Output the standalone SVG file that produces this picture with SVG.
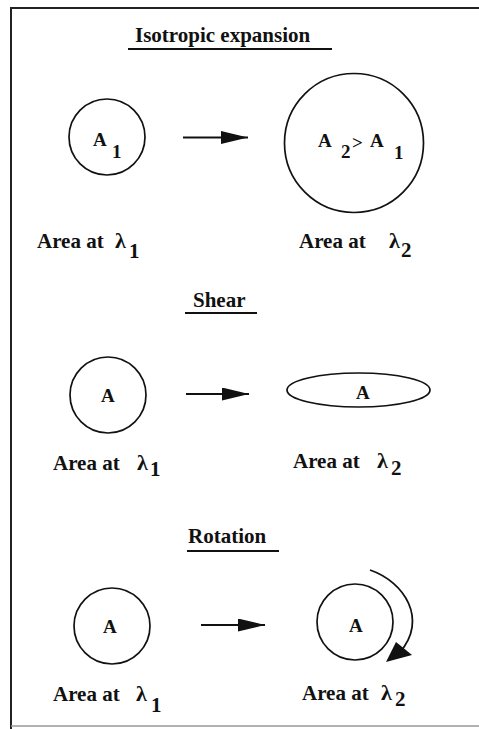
<svg xmlns="http://www.w3.org/2000/svg" width="479" height="729" viewBox="0 0 479 729">
<style>
.t{font-family:"Liberation Serif","Times New Roman",serif;font-weight:bold;fill:#111}
.h{font-size:21px}
.l{font-size:21px}
.a{font-size:19px}
.g{font-family:"Liberation Serif","Times New Roman",serif;font-weight:bold;font-size:22px;fill:#111}
.s{fill:none;stroke:#111;stroke-width:1.8}
.c{fill:none;stroke:#111;stroke-width:1.7}
</style>
<defs>
<marker id="ah" markerUnits="userSpaceOnUse" markerWidth="28" markerHeight="14" refX="27" refY="6.5" orient="auto">
<path d="M0,0 L27,6.5 L0,13 z" fill="#111"/>
</marker>
</defs>
<rect width="479" height="729" fill="#fff"/>
<g id="frame">
<line x1="11" y1="8" x2="479" y2="8" stroke="#222" stroke-width="2"/>
<line x1="11" y1="7" x2="11" y2="729" stroke="#222" stroke-width="2"/>
<line x1="11" y1="726" x2="479" y2="726" stroke="#999" stroke-width="1.5"/>
</g>
<g id="title-isotropic">
<text class="t h" x="135" y="42">Isotropic expansion</text>
<line class="s" x1="128" y1="49" x2="332" y2="49"/>
</g>
<g id="iso-circle1">
<circle class="c" cx="107" cy="137" r="38"/>
<text class="t a" x="93" y="146">A</text>
<text class="t a" x="112" y="158">1</text>
</g>
<g id="iso-circle2">
<circle class="c" cx="354" cy="143" r="69.5"/>
<text class="t a" x="318" y="147">A</text>
<text class="t a" x="341" y="158">2</text>
<text class="t a" x="352" y="149">&gt;</text>
<text class="t a" x="370" y="147">A</text>
<text class="t a" x="394" y="159">1</text>
</g>
<g id="iso-label1">
<text class="t l" x="37" y="248">Area at</text>
<text class="g" x="115" y="248">λ</text>
<text class="t l" x="129" y="258">1</text>
</g>
<g id="iso-label2">
<text class="t l" x="299" y="248">Area at</text>
<text class="g" x="389" y="248">λ</text>
<text class="t l" x="401" y="257">2</text>
</g>
<g id="title-shear">
<text class="t h" x="193" y="307">Shear</text>
<line class="s" x1="185" y1="313" x2="257" y2="313"/>
</g>
<g id="shear-circle">
<circle class="c" cx="108" cy="395" r="38"/>
<text class="t a" x="101" y="402">A</text>
</g>
<g id="shear-ellipse">
<ellipse class="c" cx="358.5" cy="390" rx="71.5" ry="17"/>
<text class="t a" x="356" y="399">A</text>
</g>
<g id="shear-label1">
<text class="t l" x="53" y="470">Area at</text>
<text class="g" x="137" y="470">λ</text>
<text class="t l" x="150" y="476">1</text>
</g>
<g id="shear-label2">
<text class="t l" x="293" y="468">Area at</text>
<text class="g" x="377" y="468">λ</text>
<text class="t l" x="391" y="475">2</text>
</g>
<g id="title-rotation">
<text class="t h" x="188" y="543">Rotation</text>
<line class="s" x1="187" y1="551" x2="279" y2="551"/>
</g>
<g id="rot-circle1">
<circle class="c" cx="112" cy="626" r="38"/>
<text class="t a" x="103" y="633">A</text>
</g>
<g id="rot-circle2">
<circle class="c" cx="355" cy="622" r="38"/>
<text class="t a" x="349" y="632">A</text>
</g>
<g id="rot-label1">
<text class="t l" x="53" y="701">Area at</text>
<text class="g" x="136" y="701">λ</text>
<text class="t l" x="151" y="712">1</text>
</g>
<g id="rot-label2">
<text class="t l" x="302" y="700">Area at</text>
<text class="g" x="381" y="700">λ</text>
<text class="t l" x="395" y="706">2</text>
</g>
<g id="connectors">
<line class="s" x1="183" y1="137.5" x2="248" y2="137.5" marker-end="url(#ah)"/>
<line class="s" x1="186" y1="394" x2="249" y2="394" marker-end="url(#ah)"/>
<line class="s" x1="201" y1="625" x2="265" y2="625" marker-end="url(#ah)"/>
<path class="s" d="M370,570 C405,582 428,620 400,652"/>
<polygon points="386,662 396,642 412,655" fill="#111"/>
</g>
</svg>
